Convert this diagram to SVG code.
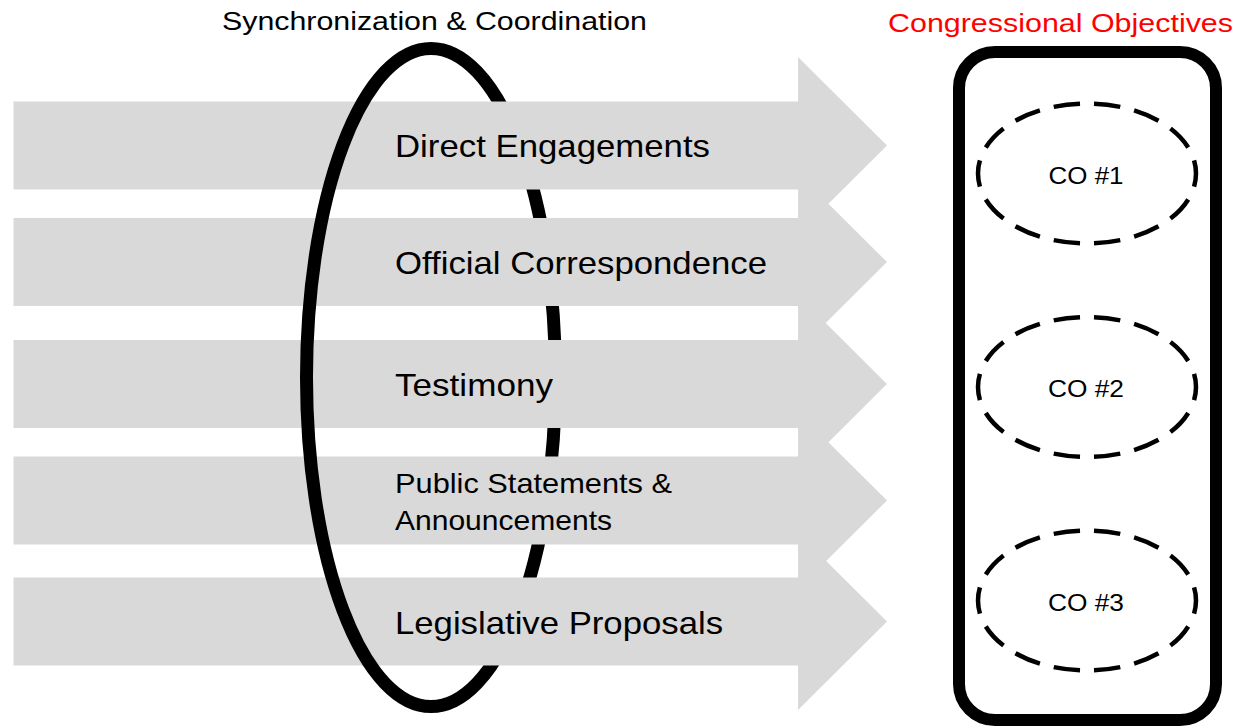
<svg xmlns="http://www.w3.org/2000/svg" width="1236" height="726" viewBox="0 0 1236 726">
  <style>
    .arrow { fill: #D9D9D9; stroke: none; }
    .lbl { font-family: "Liberation Sans", Arial, sans-serif; fill: #000000; }
    .big { font-size: 32px; }
    .mid { font-size: 28px; }
    .co { font-size: 24px; text-anchor: middle; }
    .title { font-size: 26px; }
    .oval { fill: none; stroke: #000000; stroke-width: 13; }
    .dash { fill: none; stroke: #000000; stroke-width: 4.5; stroke-dasharray: 26 14; stroke-dashoffset: 13; }
  </style>
  <defs>
    <clipPath id="clipLeft"><rect x="0" y="0" width="380" height="726"/></clipPath>
    <clipPath id="clipRight"><rect x="380" y="0" width="856" height="726"/></clipPath>
  </defs>
  <rect x="0" y="0" width="1236" height="726" fill="#FFFFFF"/>

  <g id="titles">
    <text class="lbl title" x="222" y="30" textLength="425" lengthAdjust="spacingAndGlyphs">Synchronization &amp; Coordination</text>
    <text class="lbl title" x="888" y="32" textLength="345" lengthAdjust="spacingAndGlyphs" style="fill:#FF0000">Congressional Objectives</text>
  </g>

  <!-- coordination ellipse: right part sits behind the arrows -->
  <g id="coordination-back" clip-path="url(#clipRight)">
    <ellipse class="oval" cx="431" cy="377.5" rx="124.5" ry="329"/>
  </g>

  <g id="connectors">
    <g id="arrow-direct">
      <polygon class="arrow" points="13.5,101.5 798,101.5 798,57 887,145.5 798,234 798,189.5 13.5,189.5"/>
      <text class="lbl big" x="395" y="157" textLength="315" lengthAdjust="spacingAndGlyphs">Direct Engagements</text>
    </g>
    <g id="arrow-official">
      <polygon class="arrow" points="13.5,218 798,218 798,173.5 887,262 798,350.5 798,306 13.5,306"/>
      <text class="lbl big" x="395" y="274" textLength="372" lengthAdjust="spacingAndGlyphs">Official Correspondence</text>
    </g>
    <g id="arrow-testimony">
      <polygon class="arrow" points="13.5,340 798,340 798,295.5 887,384 798,472.5 798,428 13.5,428"/>
      <text class="lbl big" x="395" y="396" textLength="158" lengthAdjust="spacingAndGlyphs">Testimony</text>
    </g>
    <g id="arrow-public">
      <polygon class="arrow" points="13.5,456.5 798,456.5 798,412 887,500.5 798,589 798,544.5 13.5,544.5"/>
      <text class="lbl mid" x="395" y="493" textLength="277" lengthAdjust="spacingAndGlyphs">Public Statements &amp;</text>
      <text class="lbl mid" x="395" y="530" textLength="217" lengthAdjust="spacingAndGlyphs">Announcements</text>
    </g>
    <g id="arrow-legislative">
      <polygon class="arrow" points="13.5,577.5 798,577.5 798,533 887,621.5 798,710 798,665.5 13.5,665.5"/>
      <text class="lbl big" x="395" y="634" textLength="328" lengthAdjust="spacingAndGlyphs">Legislative Proposals</text>
    </g>
  </g>

  <!-- coordination ellipse: left part drawn over the arrows -->
  <g id="coordination-front" clip-path="url(#clipLeft)">
    <ellipse class="oval" cx="431" cy="377.5" rx="124.5" ry="329"/>
  </g>

  <g id="objectives">
    <rect x="959" y="52" width="257" height="668" rx="36" ry="36" fill="none" stroke="#000000" stroke-width="12"/>
  </g>
  <g id="co1">
    <path class="dash" pathLength="560" d="M978,173.5 A109,70 0 1 1 1196,173.5 A109,70 0 1 1 978,173.5 Z"/>
    <text class="lbl co" x="1086" y="184" textLength="75" lengthAdjust="spacingAndGlyphs">CO #1</text>
  </g>
  <g id="co2">
    <path class="dash" pathLength="560" d="M978,387 A109,70 0 1 1 1196,387 A109,70 0 1 1 978,387 Z"/>
    <text class="lbl co" x="1086" y="397" textLength="76" lengthAdjust="spacingAndGlyphs">CO #2</text>
  </g>
  <g id="co3">
    <path class="dash" pathLength="560" d="M978,600.5 A109,70 0 1 1 1196,600.5 A109,70 0 1 1 978,600.5 Z"/>
    <text class="lbl co" x="1086" y="611" textLength="76" lengthAdjust="spacingAndGlyphs">CO #3</text>
  </g>
</svg>
